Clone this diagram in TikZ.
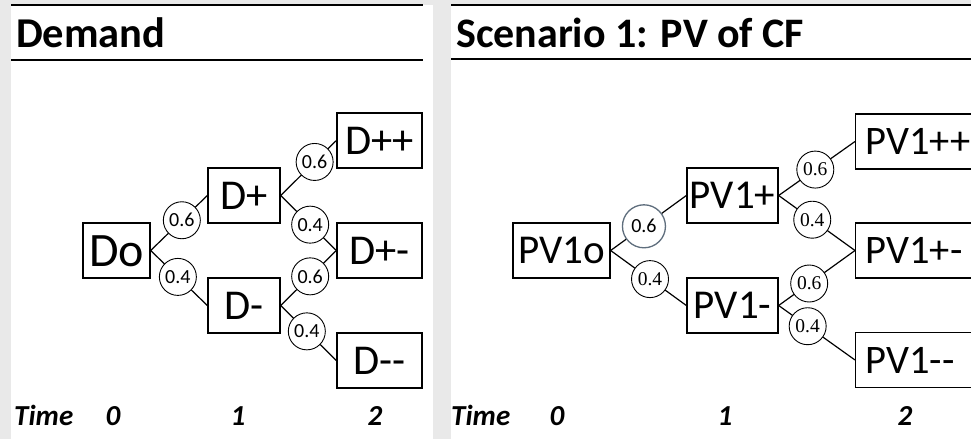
\documentclass[tikz,border=0pt]{standalone}
\usepackage{fontspec}
\newfontfamily\carlito{Carlito}[Ligatures=TeXOff]
\newfontfamily\serifnum{Liberation Serif}
\definecolor{gapgray}{RGB}{233,233,233}
\definecolor{rimblue}{RGB}{95,110,125}
\tikzset{
  treebox/.style={draw, line width=1.3pt, inner sep=0pt, minimum height=55pt,
    text height=28pt, text depth=0pt, font=\carlito\fontsize{42.5}{42.5}\selectfont},
  endbox/.style={treebox, anchor=west, text width=135pt, align=left, inner xsep=10pt,
    text height=26pt, font=\carlito\fontsize{40.5}{40.5}\selectfont},
  prob/.style={draw, circle, fill=white, line width=0.9pt, minimum size=37pt, inner sep=0pt,
    font=\carlito\fontsize{20}{20}\selectfont},
  probserif/.style={prob, font=\serifnum\fontsize{19.5}{19.5}\selectfont},
  branch/.style={line width=1.2pt},
  paneltitle/.style={anchor=base west, inner sep=0pt, font=\carlito\bfseries\fontsize{42.5}{42.5}\selectfont},
  timelbl/.style={anchor=base, inner sep=0pt, font=\carlito\bfseries\itshape\fontsize{29}{29}\selectfont},
}
\begin{document}
\begin{tikzpicture}[x=1pt, y=-1pt]
  % page, gap and the two panels
  \useasboundingbox (0,0) rectangle (971,439);
  \clip (0,0) rectangle (971,439);
  \fill[gapgray] (0,0) rectangle (971,439);
  \fill[white] (11,5) rectangle (433,439);
  \fill[white] (451,5) rectangle (971,439);
  \draw[line width=1.5pt] (11,5) -- (423,5);
  \draw[line width=2pt] (11,60) -- (423,60);
  \draw[line width=1.5pt] (451,5) -- (971,5);
  \draw[line width=2pt] (451,59) -- (971,59);
  \node[paneltitle] (tDem) at (16,47) {Demand};
  \node[paneltitle, font=\carlito\bfseries\fontsize{42}{42}\selectfont] (tScn) at (456,47) {Scenario 1: PV of CF};
  % demand tree
  \node[treebox, minimum width=67pt, text height=31pt, font=\carlito\fontsize{48}{48}\selectfont] (Do) at (116.5,250.5) {Do};
  \node[treebox, minimum width=72pt] (Dp) at (244,195.5) {D+};
  \node[treebox, minimum width=72pt] (Dm) at (244,305.5) {D-};
  \node[treebox, minimum width=85pt] (Dpp) at (379.5,140.5) {D++};
  \node[treebox, minimum width=85pt] (Dpm) at (379.5,250.5) {D+-};
  \node[treebox, minimum width=85pt] (Dmm) at (379.5,360.5) {D--};
  \draw[branch] (Do.east) -- node[prob, pos=.55] (qa1) {0.6} (Dp.west);
  \draw[branch] (Do.east) -- node[prob, pos=.48] (qa2) {0.4} (Dm.west);
  \draw[branch] (Dp.east) -- node[prob, pos=.61] (qa3) {0.6} (Dpp.west);
  \draw[branch] (Dp.east) -- node[prob, pos=.53] (qa4) {0.4} (Dpm.west);
  \draw[branch] (Dm.east) -- node[prob, pos=.53] (qa5) {0.6} (Dpm.west);
  \draw[branch] (Dm.east) -- node[prob, pos=.47] (qa6) {0.4} (Dmm.west);
  % pv tree, last column runs off the page
  \node[treebox, minimum width=97pt, text height=26pt, font=\carlito\fontsize{41}{41}\selectfont] (PVo) at (561.5,250.5) {PV1o};
  \node[treebox, minimum width=91pt, text height=26pt, font=\carlito\fontsize{41}{41}\selectfont] (PVp) at (732.5,195.5) {PV1+};
  \node[treebox, minimum width=91pt, text height=26pt, font=\carlito\fontsize{41}{41}\selectfont] (PVm) at (732.5,305.5) {PV1-};
  \node[endbox] (PVpp) at (855,141.5) {PV1++};
  \node[endbox] (PVpm) at (855,250.5) {PV1+-};
  \node[endbox] (PVmm) at (855,360) {PV1--};
  \draw[branch] (PVo.east) -- node[prob, pos=.44, minimum size=43pt, draw=rimblue, line width=1.3pt] (qb1) {0.6} (PVp.west);
  \draw[branch] (PVo.east) -- node[probserif, pos=.52] (qb2) {0.4} (PVm.west);
  \draw[branch] (PVp.east) -- node[probserif, pos=.48] (qb3) {0.6} (PVpp.west);
  \draw[branch] (PVp.east) -- node[probserif, pos=.44] (qb4) {0.4} (PVpm.west);
  \draw[branch] (PVm.east) -- node[probserif, pos=.40] (qb5) {0.6} (PVpm.west);
  \draw[branch] (PVm.east) -- node[probserif, pos=.38] (qb6) {0.4} (PVmm.west);
  % time axis
  \node[timelbl, anchor=base west] (timeA) at (14,425) {Time};
  \node[timelbl] (ta0) at (113,425) {0};
  \node[timelbl] (ta1) at (238,425) {1};
  \node[timelbl] (ta2) at (375,425) {2};
  \node[timelbl, anchor=base west] (timeB) at (451,425) {Time};
  \node[timelbl] (tb0) at (557,425) {0};
  \node[timelbl] (tb1) at (725,425) {1};
  \node[timelbl] (tb2) at (905,425) {2};
\end{tikzpicture}
\end{document}
